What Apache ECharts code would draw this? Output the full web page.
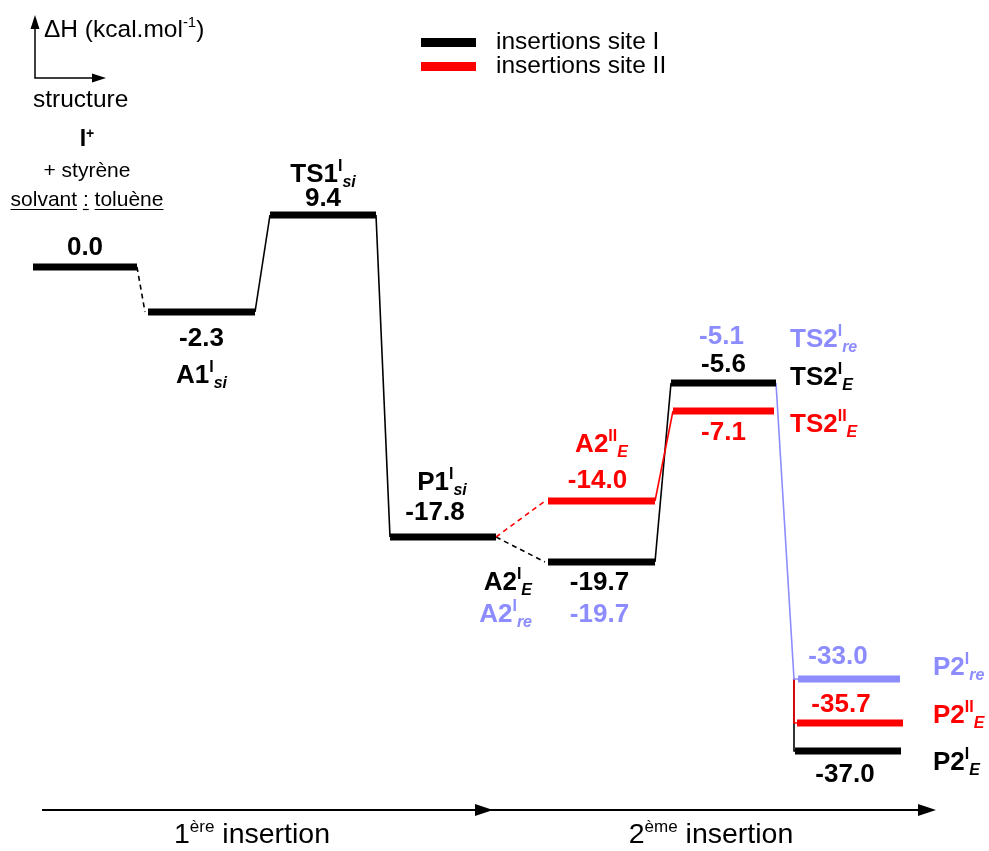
<!DOCTYPE html>
<html>
<head>
<meta charset="utf-8">
<script src="https://cdn.jsdelivr.net/npm/echarts@6/dist/echarts.min.js"></script>
<style>
    html, body { margin: 0; padding: 0; background: #fff; }
    #main { width: 989px; height: 851px; }
</style>
</head>
<body>
<div id="main"></div>
<script>
    // energy levels (kcal/mol), in drawing order
    var levelNames = ['', '{b|A1}{sup|I}{sub|si}', '{b|TS1}{sup|I}{sub|si}', '{b|P1}{sup|I}{sub|si}',
        '{b|A2}{sup|I}{sub|E}', '{b|A2}{sup|II}{sub|E}', '{b|TS2}{sup|I}{sub|E}', '{b|TS2}{sup|II}{sub|E}',
        '{b|P2}{sup|I}{sub|re}', '{b|P2}{sup|II}{sub|E}', '{b|P2}{sup|I}{sub|E}'];
    var enthalpies = [0.0, -2.3, 9.4, -17.8, -19.7, -14.0, -5.6, -7.1, -33.0, -35.7, -37.0];
    var sites = ['I', 'I', 'I', 'I', 'I', 'II', 'I', 'II', 're', 'II', 'I'];
    // site I "re" values that coincide with the E levels
    var reNames = [null, null, null, null, '{b|A2}{sup|I}{sub|re}', null, '{b|TS2}{sup|I}{sub|re}', null, null, null, null];
    var reEnthalpies = [null, null, null, null, -19.7, null, -5.1, null, null, null, null];
    // height at which each level is drawn (the diagram is not to scale)
    var drawnHeight = [0, -45, 52, -270, -295, -234, -116, -144, -412, -456, -484];
    // connections: [from, to, dashed, via] ; "via" = level whose path hides this one
    var links = [[0, 1, true], [1, 2, false], [2, 3, false], [3, 4, true], [3, 5, true],
        [4, 6, false], [5, 7, false], [6, 10, false, 8], [7, 9, false, 8], [6, 8, false]];

    // layout on the reaction coordinate
    var spanLeft = [33, 148, 270, 390, 548, 548, 671, 673, 798, 797, 795];
    var spanRight = [137, 255, 376, 496, 655, 655, 776, 774, 900, 903, 901];
    var valueOffset = [[0, -19], [0, 27], [0, -16], [-8, -24], [-2, 21], [-4, -20], [0, -18], [0, 22], [-11, -22], [-9, -18], [-3, 24]];
    // [anchor, dx, dy]
    var nameOffset = [null, ['c', 0, 64], ['c', 0, -40], ['c', -1, -54], ['l', -16, 21], ['c', 0, -56],
        ['r', 14, -5], ['r', 16, 14], ['r', 33, -11], ['r', 30, -7], ['r', 32, 12]];
    var reOffset = [null, null, null, null, [[-2, 53], ['l', -16, 53]], null, [[-2, -46], ['r', 14, -43]], null, null, null, null];

    var FONT = 'Liberation Sans, Arial, sans-serif';
    var siteColor = {I: '#000000', II: '#ff0000', re: '#8c8cff'};
    var rich = {
        b: {fontSize: 26, fontWeight: 'bold', fontFamily: FONT, lineHeight: 32},
        sup: {fontSize: 16, fontWeight: 'bold', fontFamily: FONT, verticalAlign: 'top', lineHeight: 16},
        sub: {fontSize: 16, fontWeight: 'bold', fontStyle: 'italic', fontFamily: FONT, verticalAlign: 'bottom', lineHeight: 16}
    };

    function txt(text, x, y, align, color) {
        return {
            type: 'text', x: x, y: y, z2: 10,
            style: {text: text, rich: rich, fill: color, align: align, verticalAlign: 'middle', font: 'bold 26px ' + FONT}
        };
    }

    function anchorX(a, l, r) {
        return a === 'l' ? l : (a === 'r' ? r : (l + r) / 2);
    }

    var levelData = enthalpies.map(function (e, i) {
        return [spanLeft[i], spanRight[i], drawnHeight[i], e];
    });

    function renderLevel(params, api) {
        var i = params.dataIndex;
        var p1 = api.coord([api.value(0), api.value(2)]);
        var p2 = api.coord([api.value(1), api.value(2)]);
        var y = p1[1];
        var cx = (p1[0] + p2[0]) / 2;
        var color = siteColor[sites[i]];
        var children = [{
            type: 'rect',
            shape: {x: p1[0], y: y - 3.5, width: p2[0] - p1[0], height: 7},
            style: {fill: color}
        }];
        var v = valueOffset[i];
        children.push(txt('{b|' + enthalpies[i].toFixed(1) + '}', cx + v[0], y + v[1], 'center', color));
        var n = nameOffset[i];
        if (n) {
            var al = n[0] === 'l' ? 'right' : (n[0] === 'r' ? 'left' : 'center');
            children.push(txt(levelNames[i], anchorX(n[0], p1[0], p2[0]) + n[1], y + n[2], al, color));
        }
        if (reEnthalpies[i] !== null) {
            var ro = reOffset[i];
            var blue = siteColor.re;
            children.push(txt('{b|' + reEnthalpies[i].toFixed(1) + '}', cx + ro[0][0], y + ro[0][1], 'center', blue));
            var a2 = ro[1][0] === 'l' ? 'right' : 'left';
            children.push(txt(reNames[i], anchorX(ro[1][0], p1[0], p2[0]) + ro[1][1], y + ro[1][2], a2, blue));
        }
        return {type: 'group', children: children};
    }

    function linkData(color) {
        return links.filter(function (k) {
            return siteColor[sites[k[1]]] === color;
        }).map(function (k) {
            var a = k[0], b = k[1];
            var coords;
            if (k[3] !== undefined) {
                // hidden under the shared path, only its drop to its own level shows
                var xj = spanLeft[k[3]] - 4;
                coords = [[xj, drawnHeight[k[3]]], [xj, drawnHeight[b]], [spanLeft[b], drawnHeight[b]]];
            } else if (b === 8) {
                coords = [[spanRight[a], drawnHeight[a]], [spanLeft[b] - 4, drawnHeight[b]], [spanLeft[b], drawnHeight[b]]];
            } else {
                coords = [[spanRight[a], drawnHeight[a]], [spanLeft[b] - (k[2] ? 3 : 0), drawnHeight[b]]];
            }
            return {coords: coords, lineStyle: {type: k[2] ? [5, 4] : 'solid'}};
        });
    }

    // underline pieces of "solvant : toluène"
    var ctx = document.createElement('canvas').getContext('2d');
    ctx.font = '21px ' + FONT;
    var solvText = 'solvant : toluène';
    var solvW = ctx.measureText(solvText).width;
    var solvX = 87 - solvW / 2;
    var underlineParts = [
        [0, ctx.measureText('solvant').width],
        [ctx.measureText('solvant ').width, ctx.measureText('solvant :').width],
        [ctx.measureText('solvant : ').width, solvW]
    ];

    function arrowRight(x, y) {
        return {type: 'polygon', shape: {points: [[x, y], [x - 18, y - 6], [x - 18, y + 6]]}, style: {fill: '#000'}};
    }

    var supRich = function (size, sup) {
        return {
            n: {fontSize: size, fontFamily: FONT, lineHeight: size + 4},
            s: {fontSize: sup, fontFamily: FONT, verticalAlign: 'top', lineHeight: sup}
        };
    };

    var graphics = [
        {type: 'polyline', shape: {points: [[35, 24], [35, 78], [95, 78]]}, style: {stroke: '#000', lineWidth: 1.5, fill: null}},
        {type: 'polygon', shape: {points: [[35, 15], [30.5, 29], [39.5, 29]]}, style: {fill: '#000'}},
        {type: 'polygon', shape: {points: [[106, 78], [92, 73.5], [92, 82.5]]}, style: {fill: '#000'}},
        {type: 'text', x: 44, y: 30, style: {
            text: '{n|ΔH (kcal.mol}{s|-1}{n|)}', verticalAlign: 'middle', fill: '#000', rich: supRich(24.5, 15)
        }},
        {type: 'text', x: 33, y: 100, style: {text: 'structure', font: '24.5px ' + FONT, fill: '#000', verticalAlign: 'middle'}},
        {type: 'text', x: 87, y: 140, style: {
            text: '{b|I}{s|+}', align: 'center', verticalAlign: 'middle', fill: '#000',
            rich: {b: {fontSize: 23, fontWeight: 'bold', fontFamily: FONT, lineHeight: 26}, s: {fontSize: 14, fontWeight: 'bold', fontFamily: FONT, verticalAlign: 'top', lineHeight: 14}}
        }},
        {type: 'text', x: 87, y: 171, style: {text: '+ styrène', font: '21px ' + FONT, fill: '#000', align: 'center', verticalAlign: 'middle'}},
        {type: 'text', x: 87, y: 200, style: {text: solvText, font: '21px ' + FONT, fill: '#000', align: 'center', verticalAlign: 'middle'}},
        // bottom reaction coordinate
        {type: 'line', shape: {x1: 42, y1: 810, x2: 920, y2: 810}, style: {stroke: '#000', lineWidth: 2}},
        arrowRight(493, 810),
        arrowRight(936, 810),
        {type: 'text', x: 252, y: 835, style: {
            text: '{n|1}{s|ère}{n| insertion}', align: 'center', verticalAlign: 'middle', fill: '#000', rich: supRich(28.5, 17)
        }},
        {type: 'text', x: 711, y: 835, style: {
            text: '{n|2}{s|ème}{n| insertion}', align: 'center', verticalAlign: 'middle', fill: '#000', rich: supRich(28.5, 17)
        }}
    ];
    underlineParts.forEach(function (u) {
        graphics.push({type: 'line', shape: {x1: solvX + u[0], y1: 209.5, x2: solvX + u[1], y2: 209.5}, style: {stroke: '#000', lineWidth: 1.2}});
    });

    var chart = echarts.init(document.getElementById('main'));
    chart.setOption({
        animation: false,
        backgroundColor: '#ffffff',
        grid: {left: 0, right: 0, top: 0, bottom: 0},
        xAxis: {type: 'value', min: 0, max: 989, show: false},
        yAxis: {type: 'value', min: -584, max: 267, show: false},
        legend: {
            left: 421, top: 30, padding: 0, orient: 'vertical', itemWidth: 53, itemHeight: 7, itemGap: -1,
            icon: 'rect', selectedMode: false,
            data: ['insertions site I', 'insertions site II'],
            textStyle: {fontSize: 24.5, lineHeight: 22, fontFamily: FONT, color: '#000', padding: [0, 0, 0, 16]}
        },
        graphic: graphics,
        series: [{
            name: 'insertions site I',
            type: 'lines',
            coordinateSystem: 'cartesian2d',
            polyline: true,
            z: 2,
            itemStyle: {color: siteColor.I},
            lineStyle: {color: siteColor.I, width: 1.6, opacity: 1},
            data: linkData(siteColor.I)
        }, {
            name: 'insertions site II',
            type: 'lines',
            coordinateSystem: 'cartesian2d',
            polyline: true,
            z: 2,
            itemStyle: {color: siteColor.II},
            lineStyle: {color: siteColor.II, width: 1.6, opacity: 1},
            data: linkData(siteColor.II)
        }, {
            name: 'site I re',
            type: 'lines',
            coordinateSystem: 'cartesian2d',
            polyline: true,
            z: 3,
            itemStyle: {color: siteColor.re},
            lineStyle: {color: siteColor.re, width: 1.6, opacity: 1},
            data: linkData(siteColor.re)
        }, {
            name: 'levels',
            type: 'custom',
            z: 4,
            renderItem: renderLevel,
            data: levelData
        }]
    });
</script>
</body>
</html>
